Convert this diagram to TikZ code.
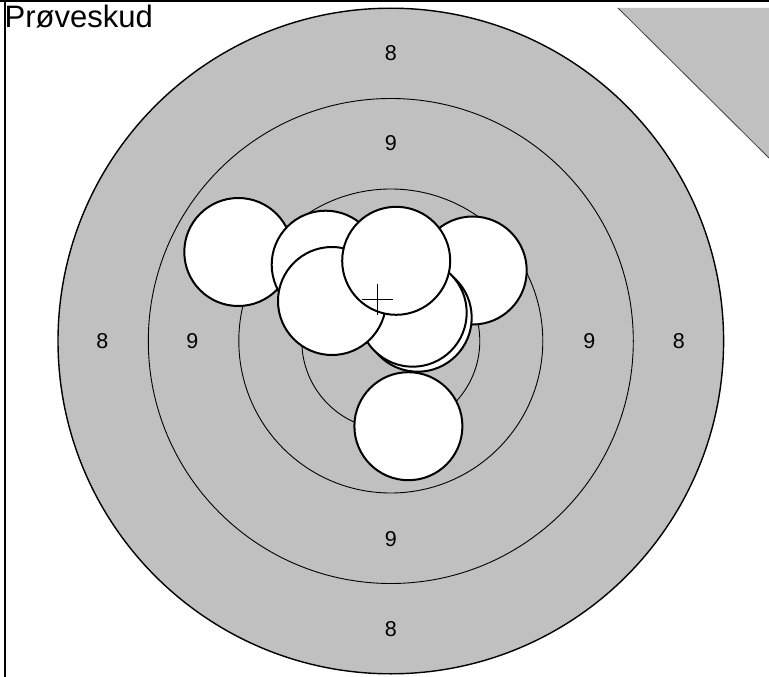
\documentclass[tikz,border=0pt]{standalone}
\usepackage{fontspec}
\setmainfont{Liberation Sans}
\definecolor{tgray}{RGB}{192,192,192}
\begin{document}
\begin{tikzpicture}[x=1pt,y=-1pt,
  shot/.style={draw=black,line width=2pt,fill=white},
  ring/.style={draw=black,line width=0.9pt},
  lbl/.style={font=\fontsize{21.5}{21.5}\selectfont,inner sep=0pt}]
\useasboundingbox (0,0) rectangle (769,677);
\fill[white] (0,0) rectangle (769,677);
% corner triangle
\fill[tgray] (618,8) -- (769,8) -- (769,158) -- cycle;
\draw[draw=black!75,line width=0.8pt] (618,8) -- (769,158);
% target
\coordinate (c) at (390.8,341);
\draw[fill=tgray,draw=black,line width=1.4pt] (c) circle[radius=332.8pt];
\draw[ring] (c) circle[radius=242.5pt];
\draw[ring] (c) circle[radius=152pt];
\draw[ring] (c) circle[radius=89pt];
% ring labels
\node[lbl] (t8) at (390.8,52.8) {8};
\node[lbl] (b8) at (390.8,629.2) {8};
\node[lbl] (l8) at (102.3,340.8) {8};
\node[lbl] (r8) at (678.8,340.8) {8};
\node[lbl] (t9) at (390.8,143.2) {9};
\node[lbl] (b9) at (390.8,538.8) {9};
\node[lbl] (l9) at (192.3,340.8) {9};
\node[lbl] (r9) at (589.3,340.8) {9};
% shots
\draw[shot] (238.3,252) circle[radius=54pt];
\draw[shot] (325.7,264.7) circle[radius=54pt];
\draw[shot] (472.7,270.5) circle[radius=54pt];
\draw[shot] (417.7,317.7) circle[radius=54pt];
\draw[shot] (412.7,312.7) circle[radius=54pt];
\draw[shot] (332,301) circle[radius=54pt];
\draw[shot] (396.2,260.8) circle[radius=54pt];
\draw[shot] (408.4,426.2) circle[radius=54pt];
% crosshair
\coordinate (x0) at (377.7,299.3);
\draw[line width=1.2pt] ([xshift=-15.5pt]x0) -- ([xshift=15.5pt]x0);
\draw[line width=1.2pt] ([yshift=-15.5pt]x0) -- ([yshift=15.5pt]x0);
% frame
\draw[line width=1.5pt] (0,1) -- (769,1);
\draw[line width=1.5pt] (5,0) -- (5,677);
% title
\node[anchor=base west,inner sep=0pt,font=\fontsize{31}{31}\selectfont] (title) at (4.5,28) {Prøveskud};
\end{tikzpicture}
\end{document}
